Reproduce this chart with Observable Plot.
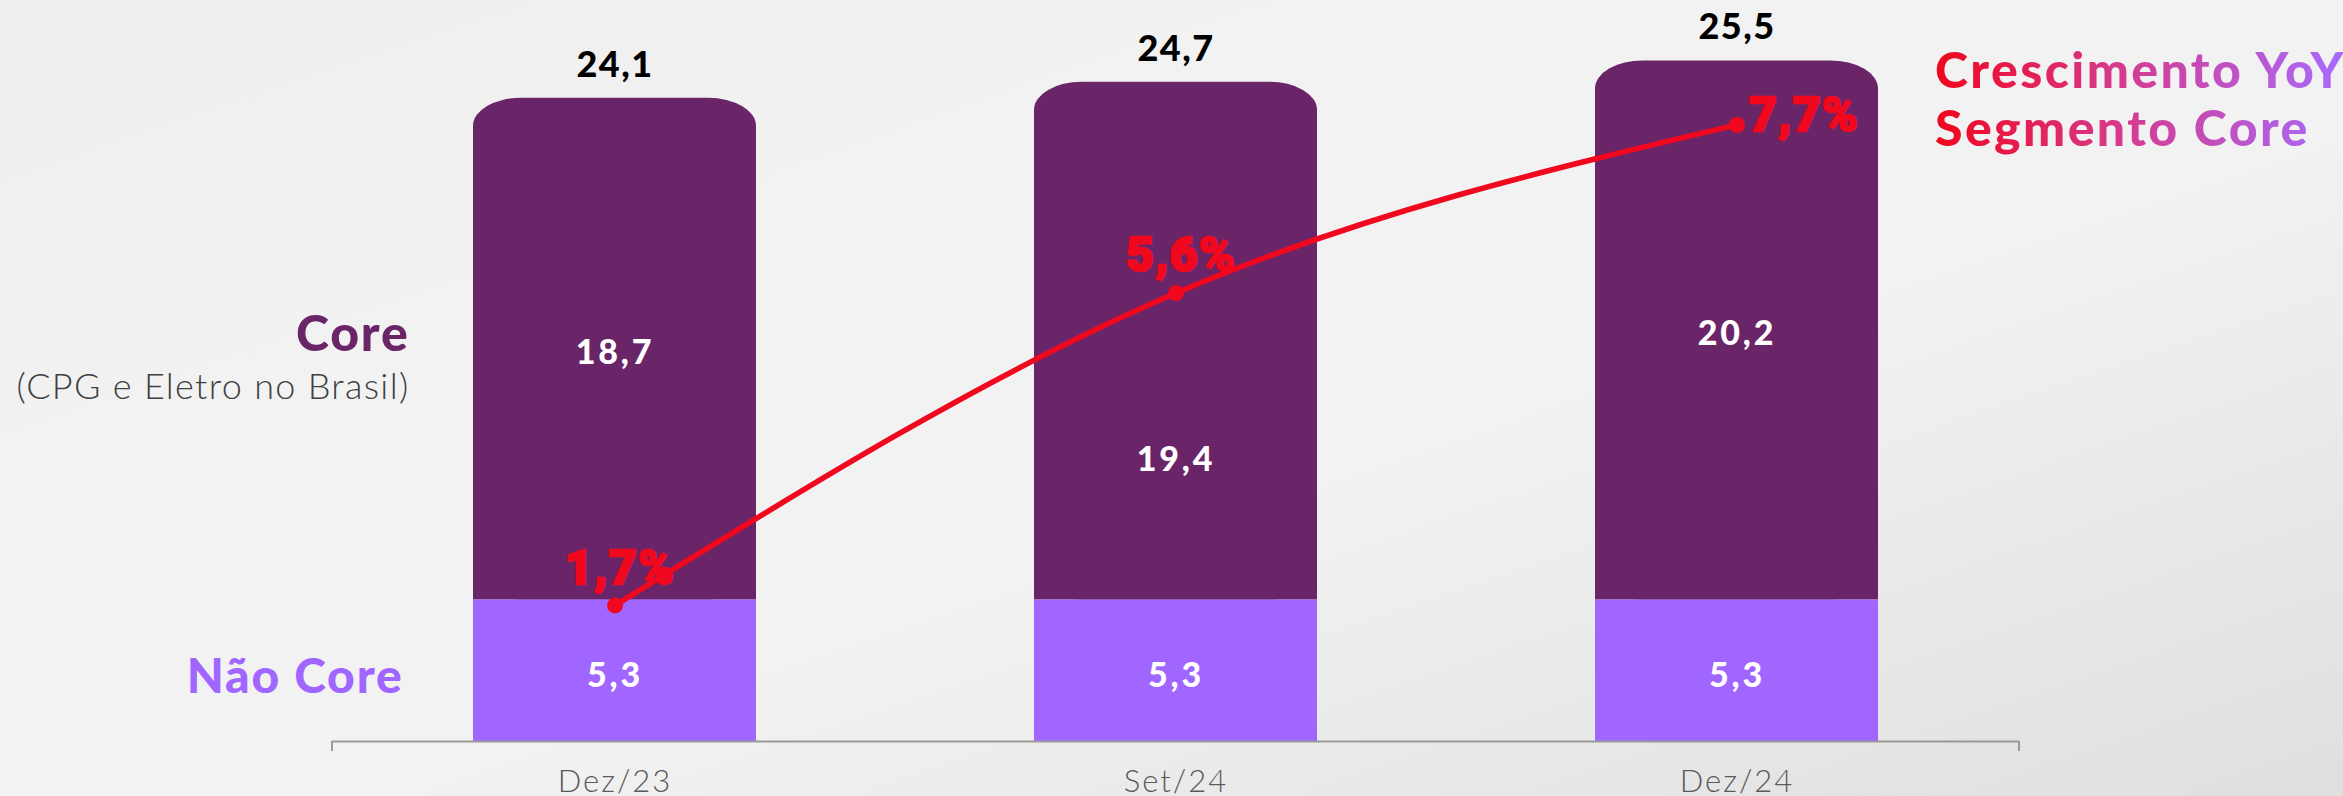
<!DOCTYPE html>
<html><head><meta charset="utf-8">
<script src="https://cdn.jsdelivr.net/npm/d3@7"></script>
<script src="https://cdn.jsdelivr.net/npm/@observablehq/plot@0.6"></script>
<style>
html,body{margin:0;padding:0;}
body{width:2343px;height:796px;overflow:hidden;background:linear-gradient(to bottom right,#eeeeee 0%,#f2f2f2 30%,#f2f2f2 58%,#dfdfdf 100%);font-family:Lato,"Open Sans",sans-serif;}
#wrap{position:relative;width:2343px;height:796px;}
#chart{position:absolute;left:0;top:0;}
#legend{position:absolute;left:1935px;top:40px;font-family:Lato,sans-serif;font-size:50px;line-height:58px;font-weight:900;letter-spacing:2.4px;background:linear-gradient(to right,#f0061d 0%,#d63a8e 45%,#a66bff 100%);-webkit-background-clip:text;background-clip:text;color:transparent;white-space:nowrap;}
g[aria-description="totais"] text{letter-spacing:1.5px;}
g[aria-description="valores"] text{letter-spacing:2.8px;}
g[aria-description="yoy"] text{letter-spacing:1.5px;}
g[aria-description="rotulo"] text{letter-spacing:1.8px;}
g[aria-description="subrotulo"] text{letter-spacing:1.3px;}
g[aria-label="x-axis tick label"] text{letter-spacing:2px;}
</style></head>
<body><div id="wrap"><div id="chart"></div><div id="legend">Crescimento YoY<br>Segmento Core</div></div>
<script>
const periodos = ["Dez/23", "Set/24", "Dez/24"];
const naoCore = [5.3, 5.3, 5.3];
const core = [18.7, 19.4, 20.2];
const total = [24.1, 24.7, 25.5];
const crescimentoYoY = [1.7, 5.6, 7.7];
const escalaYoY = 3; // eixo secundário: 1 p.p. = 3 unidades do eixo principal

const rows = periodos.map((p, i) => ({periodo: p, nao: naoCore[i], core: core[i], total: total[i], yoy: crescimentoYoY[i]}));
const fmt = v => v.toFixed(1).replace(".", ",");
const roxo = "#6a2568", lilas = "#a066ff", vermelho = "#f0081e";

const plot = Plot.plot({
  width: 2343, height: 796,
  marginLeft: 332, marginRight: 324, marginTop: 7, marginBottom: 55,
  style: {background: "transparent", overflow: "visible", fontFamily: "Lato, sans-serif"},
  x: {domain: periodos, paddingInner: 0.496, paddingOuter: 0.249, label: null, axis: null},
  y: {domain: [0, 27.5], axis: null},
  marks: [
    Plot.barY(rows, {x: "periodo", y1: "nao", y2: "total", fill: roxo, rx: 48, ry: 28}),
    Plot.barY(rows, {x: "periodo", y1: "nao", y2: "total", fill: roxo, insetTop: 30}),
    Plot.barY(rows, {x: "periodo", y1: 0, y2: "nao", fill: lilas}),
    Plot.ruleY([0], {stroke: "#9a9a9a", strokeWidth: 2}),
    Plot.axisX({tickSize: 0, tickPadding: 28, fontSize: 31, fontWeight: 300, fill: "#5a5a5a", label: null}),
    Plot.text(rows, {ariaDescription: "totais", x: "periodo", y: "total", text: d => fmt(d.total), dy: -33, fontSize: 36, fontWeight: 900, fill: "#000"}),
    Plot.text(rows, {ariaDescription: "valores", filter: d => d.periodo !== "Set/24", x: "periodo", y: d => (d.nao + d.total) / 2, text: d => fmt(d.core), dy: 4, fontSize: 34, fontWeight: 900, fill: "#fff"}),
    Plot.text(rows, {ariaDescription: "valores", filter: d => d.periodo === "Set/24", x: "periodo", y: d => (d.nao + d.total) / 2, text: d => fmt(d.core), dy: 119, fontSize: 34, fontWeight: 900, fill: "#fff"}),
    Plot.text(rows, {ariaDescription: "valores", x: "periodo", y: d => d.nao / 2, text: d => fmt(d.nao), dy: 5, fontSize: 34, fontWeight: 900, fill: "#fff"}),
    Plot.line(rows, {x: "periodo", y: d => d.yoy * escalaYoY, stroke: vermelho, strokeWidth: 5.5, curve: "monotone-x"}),
    Plot.dot(rows, {x: "periodo", y: d => d.yoy * escalaYoY, r: 8, fill: vermelho}),
    Plot.text(rows, {ariaDescription: "yoy", filter: d => d.periodo !== "Dez/24", x: "periodo", y: d => d.yoy * escalaYoY, text: d => fmt(d.yoy) + "%", dx: 5, dy: -37, fontSize: 48, fontWeight: 900, fontFamily: "Roboto", fill: vermelho, stroke: vermelho, strokeWidth: 2.4}),
    Plot.text(rows, {ariaDescription: "yoy", filter: d => d.periodo === "Dez/24", x: "periodo", y: d => d.yoy * escalaYoY, text: d => fmt(d.yoy) + "%", textAnchor: "start", dx: 12, dy: -9, fontSize: 48, fontWeight: 900, fontFamily: "Roboto", fill: vermelho, stroke: vermelho, strokeWidth: 2.4}),
    Plot.text([rows[0]], {ariaDescription: "rotulo", y: d => (d.nao + d.total) / 2, text: () => "Core", frameAnchor: "left", textAnchor: "end", dx: 77, dy: -14, fontSize: 50, fontWeight: 900, fill: roxo}),
    Plot.text([rows[0]], {ariaDescription: "subrotulo", y: d => (d.nao + d.total) / 2, text: () => "(CPG e Eletro no Brasil)", frameAnchor: "left", textAnchor: "end", dx: 77, dy: 38, fontSize: 36, fontWeight: 300, fill: "#404040"}),
    Plot.text([rows[0]], {ariaDescription: "rotulo", y: d => d.nao / 2, text: () => "Não Core", frameAnchor: "left", textAnchor: "end", dx: 71, dy: 7, fontSize: 48, fontWeight: 900, fill: lilas})
  ]
});

const y0 = plot.scale("y").apply(0);
const svg = d3.select(plot.tagName.toLowerCase() === "svg" ? plot : plot.querySelector("svg"));
for (const xe of [332, 2343 - 324]) {
  svg.append("line").attr("x1", xe).attr("x2", xe).attr("y1", y0).attr("y2", y0 + 10).attr("stroke", "#9a9a9a").attr("stroke-width", 2);
}
document.getElementById("chart").appendChild(plot);
</script>
</body></html>
